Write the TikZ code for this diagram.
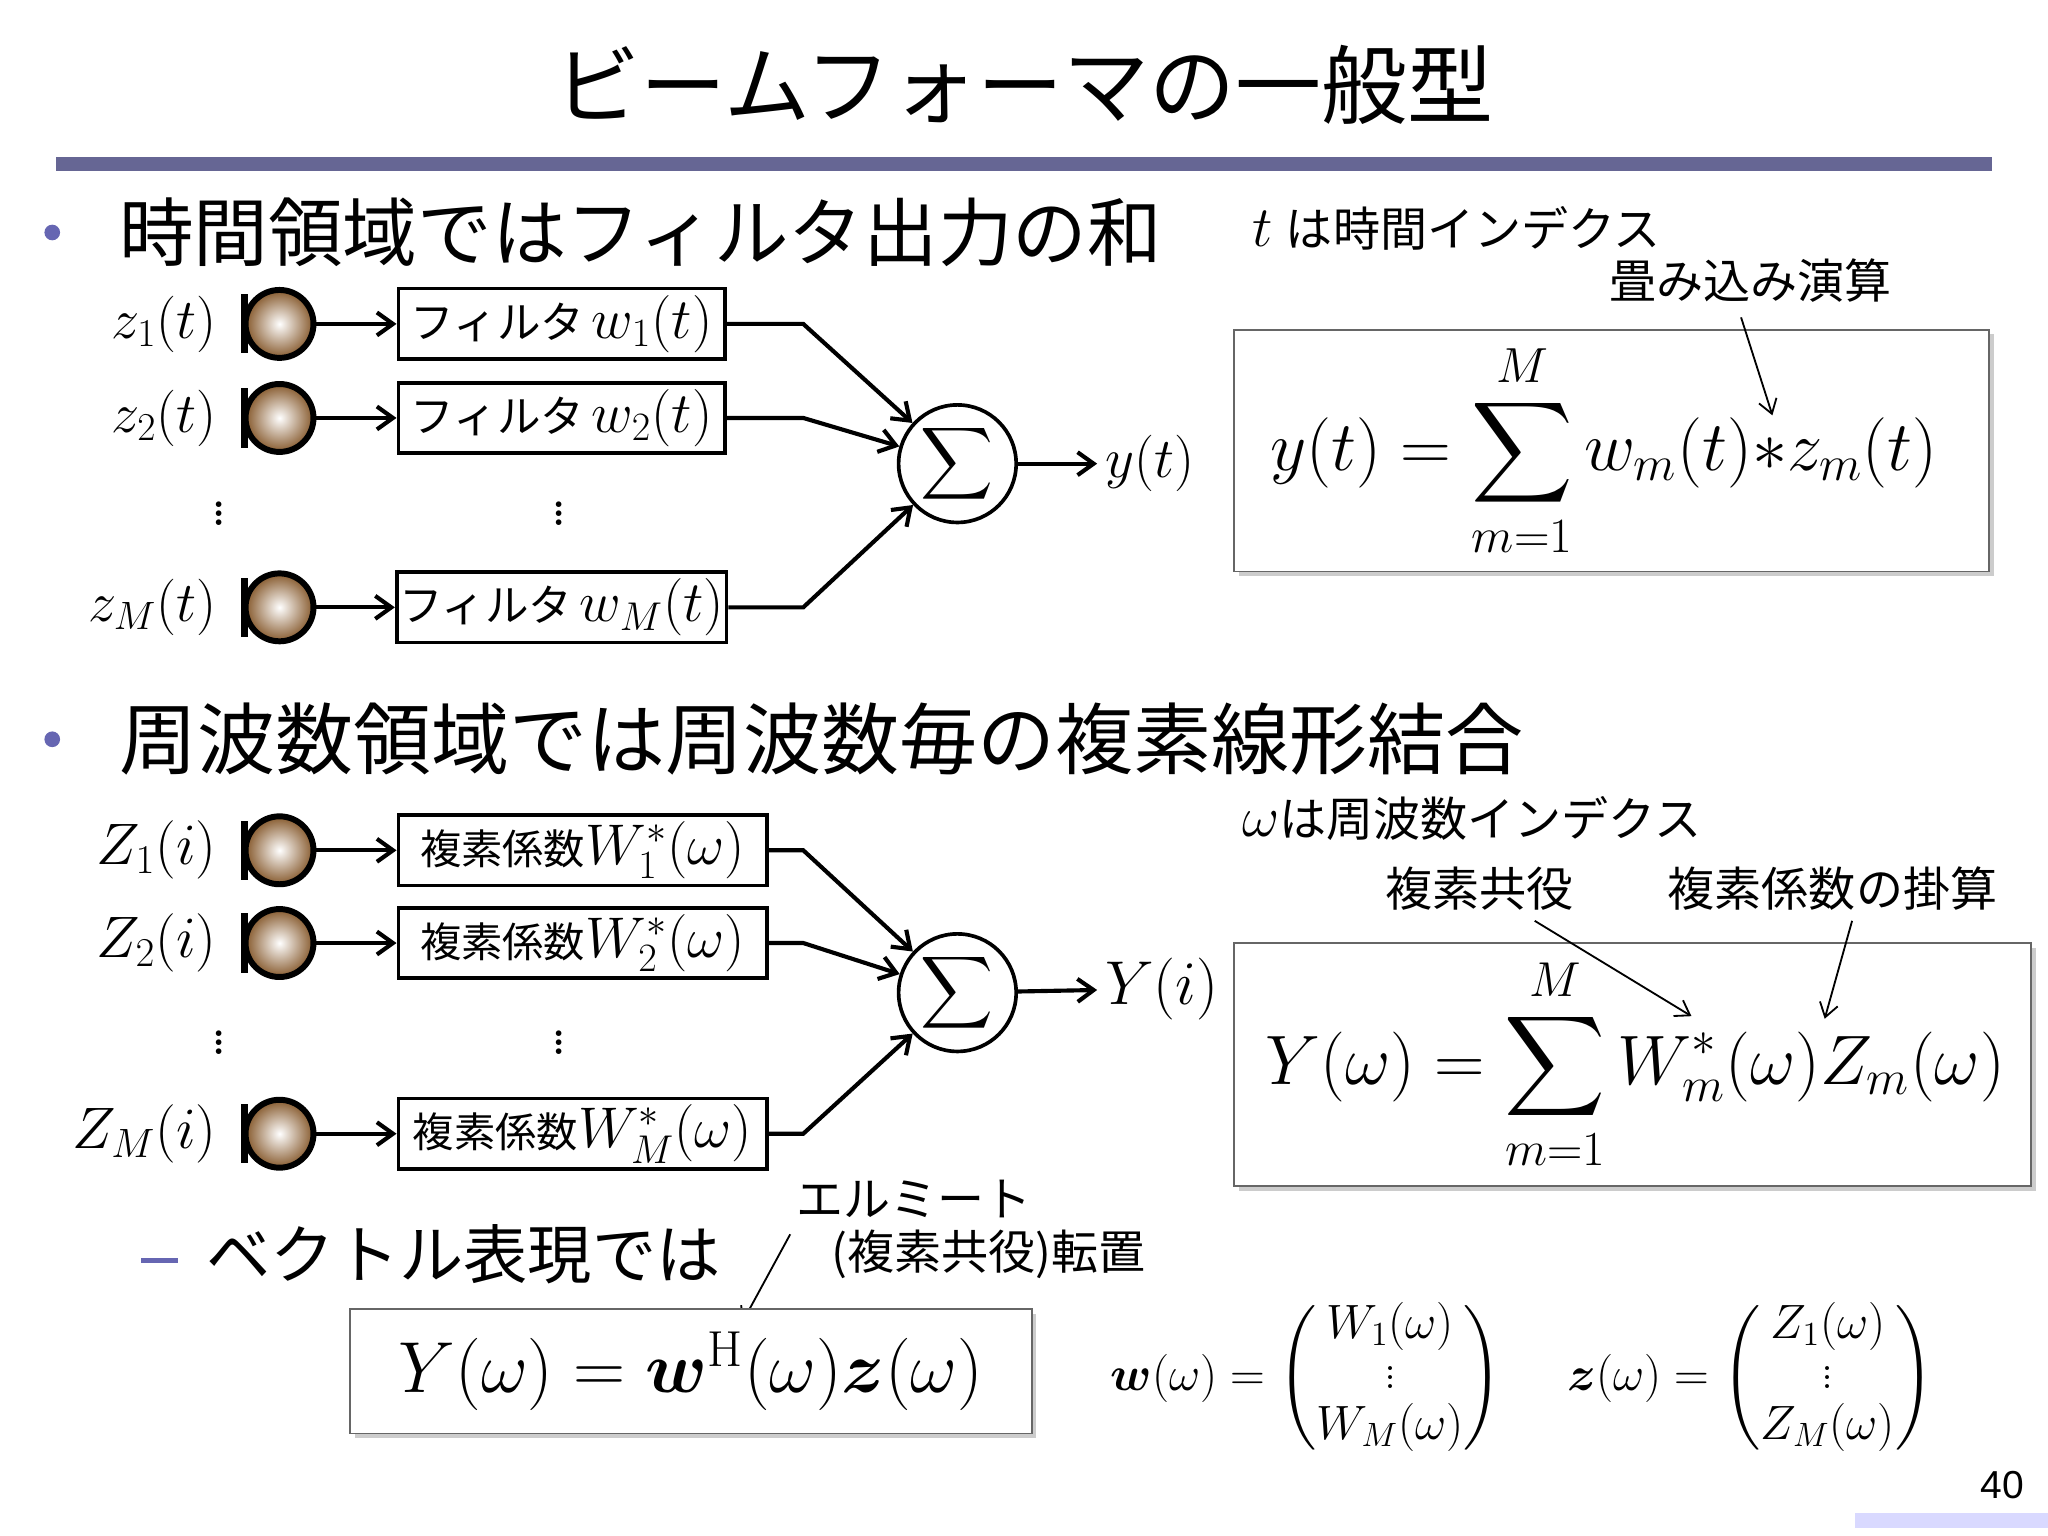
\RequirePackage{fix-cm}
\documentclass[tikz,border=0pt]{standalone}
\usepackage{amsmath,amssymb}
\usepackage{fontspec}
\newfontfamily\jp{Noto Sans CJK JP}
\usetikzlibrary{shadows,arrows.meta}
\newcommand\fs[1]{\fontsize{#1}{#1}\selectfont}
\begin{document}
\begin{tikzpicture}[x=0.02cm,y=-0.02cm,
  mic/.style={circle,draw=black,line width=2.6pt,minimum size=52*0.02cm,inner sep=0,inner color=white,outer color=brown!70!black},
  fbox/.style={draw,line width=1.6pt,minimum height=54*0.02cm,inner sep=1pt},
  sumc/.style={circle,draw,line width=1.6pt,minimum size=90*0.02cm,inner sep=0},
  arr/.style={-{Straight Barb[length=7pt,width=10pt]},line width=1.8pt},
  thin/.style={-{Straight Barb[length=6pt,width=8pt]},line width=0.8pt},
  fbx/.style={draw=black!60,fill=white,line width=0.8pt,drop shadow={shadow xshift=2pt,shadow yshift=-2pt,opacity=0.4}},
  lab/.style={font=\fs{24.6}},
  dots/.style={font=\fs{30}},
  jt/.style={font=\jp\fs{20.5}}]
\useasboundingbox (0,0) rectangle (1568,1176);
\node[font=\jp\fs{37.5}] (title) at (784,65) {ビームフォーマの一般型};
\fill[blue!30!black!60] (43,120) rectangle (1525,131);
\fill[blue!50!black!60] (40,178) circle (6);
\node[anchor=west,font=\jp\fs{32.5}] (b1) at (85,178) {時間領域ではフィルタ出力の和};
\node[anchor=west,jt] (tl) at (953,175) {\fs{25}$t$ \jp\fs{20.5}は時間インデクス};
\node[jt] (tat) at (1340,215) {畳み込み演算};
\node[fbx,minimum width=578*0.02cm,minimum height=185*0.02cm] (f1) at (1234,345) {};
\node[font=\fs{30.7}] (eq1) at (1228,345) {$y(t)=\displaystyle\sum_{m=1}^{M}w_m(t)\mathord{*}z_m(t)$};
\coordinate (ta) at (1357,318);
\draw[thin] (1333,243) -- (ta);
% top rows
\foreach \i/\y/\lb/\wl in {1/248/z_1(t)/w_1(t), 2/320/z_2(t)/w_2(t), 3/465/z_M(t)/w_M(t)}{
  \node[lab,anchor=east] (zl\i) at (172,\y) {$\lb$};
  \draw[line width=3pt] (190,\y-20) -- (187,\y-20) -- (187,\y+20) -- (190,\y+20);
  \node[mic] (m\i) at (214,\y) {};
  \node[fbox,minimum width=250*0.02cm,font=\jp\fs{19}] (F\i) at (430,\y) {フィルタ\,\fs{25}$\wl$};
  \draw[arr] (m\i) -- (F\i);
}
\node[sumc,font=\fs{22}] (S1) at (733,355) {$\displaystyle\sum$};
\draw[arr] (F1.east) -- (615,248) -- (S1);
\draw[arr] (F2.east) -- (615,320) -- (S1);
\draw[arr] (F3.east) -- (615,465) -- (S1);
\node[lab,anchor=west] (y1) at (840,355) {$y(t)$};
\draw[arr] (S1) -- (y1);
\node[dots] at (168,388) {$\vdots$};
\node[dots] at (428,388) {$\vdots$};
% bottom
\fill[blue!50!black!60] (40,566) circle (6);
\node[anchor=west,font=\jp\fs{34}] (b2) at (85,566) {周波数領域では周波数毎の複素線形結合};
\node[anchor=west,jt] (wl) at (945,627) {\fs{25}$\omega$\jp\fs{20.5}は周波数インデクス};
\node[jt] (kk) at (1133,680) {複素共役};
\node[jt] (kkk) at (1403,680) {複素係数の掛算};
\node[fbx,minimum width=610*0.02cm,minimum height=186*0.02cm] (f2) at (1250,815) {};
\node[font=\fs{30.5}] (eq2) at (1252,815) {$Y(\omega)=\displaystyle\sum_{m=1}^{M}W_m^*(\omega)Z_m(\omega)$};
\coordinate (ka) at (1295,778); \coordinate (kb) at (1397,780);
\draw[thin] (1175,705) -- (ka);
\draw[thin] (1418,705) -- (kb);
\foreach \i/\y/\lb/\wl in {1/651/Z_1(i)/W_1^*(\omega), 2/722/Z_2(i)/W_2^*(\omega), 3/868/Z_M(i)/W_M^*(\omega)}{
  \node[anchor=east,font=\fs{25.5}] (Zl\i) at (172,\y) {$\lb$};
  \draw[line width=3pt] (190,\y-20) -- (187,\y-20) -- (187,\y+20) -- (190,\y+20);
  \node[mic] (n\i) at (214,\y) {};
  \node[fbox,minimum width=282*0.02cm,inner sep=1pt,font=\jp\fs{18}] (G\i) at (446,\y) {複素係数\fs{25}$\wl$};
  \draw[arr] (n\i) -- (G\i);
}
\node[sumc,font=\fs{22}] (S2) at (733,760) {$\displaystyle\sum$};
\draw[arr] (G1.east) -- (615,651) -- (S2);
\draw[arr] (G2.east) -- (615,722) -- (S2);
\draw[arr] (G3.east) -- (615,868) -- (S2);
\node[anchor=west,font=\fs{27}] (Y2) at (840,757) {$Y(i)$};
\draw[arr] (S2) -- (Y2);
\node[dots] at (168,793) {$\vdots$};
\node[dots] at (428,793) {$\vdots$};
% vector
\draw[blue!50!black!60,line width=2pt] (108,965) -- (136,965);
\node[anchor=west,font=\jp\fs{28}] (vt) at (152,960) {ベクトル表現では};
\node[jt] (em) at (700,918) {エルミート};
\node[jt] (em2) at (757,960) {(複素共役)転置};
\coordinate (ea) at (568,1013);
\draw[thin] (605,945) -- (ea);
\node[fbx,minimum width=522*0.02cm,minimum height=95*0.02cm] (f3) at (529,1050) {};
\node[font=\fs{31.5}] (eq3) at (529,1050) {$Y(\omega)=\boldsymbol{w}^{\mathrm{H}}(\omega)\boldsymbol{z}(\omega)$};
\node[font=\fs{21}] (wv) at (1000,1055) {$\boldsymbol{w}(\omega)=\begin{pmatrix}W_1(\omega)\\ \vdots\\ W_M(\omega)\end{pmatrix}$};
\node[font=\fs{21}] (zv) at (1340,1055) {$\boldsymbol{z}(\omega)=\begin{pmatrix}Z_1(\omega)\\ \vdots\\ Z_M(\omega)\end{pmatrix}$};
\node[font=\fs{17}] (pg) at (1533,1137) {\fontspec{Liberation Sans}40};
\fill[blue!15] (1420,1158) rectangle (1568,1170);
\end{tikzpicture}
\end{document}
